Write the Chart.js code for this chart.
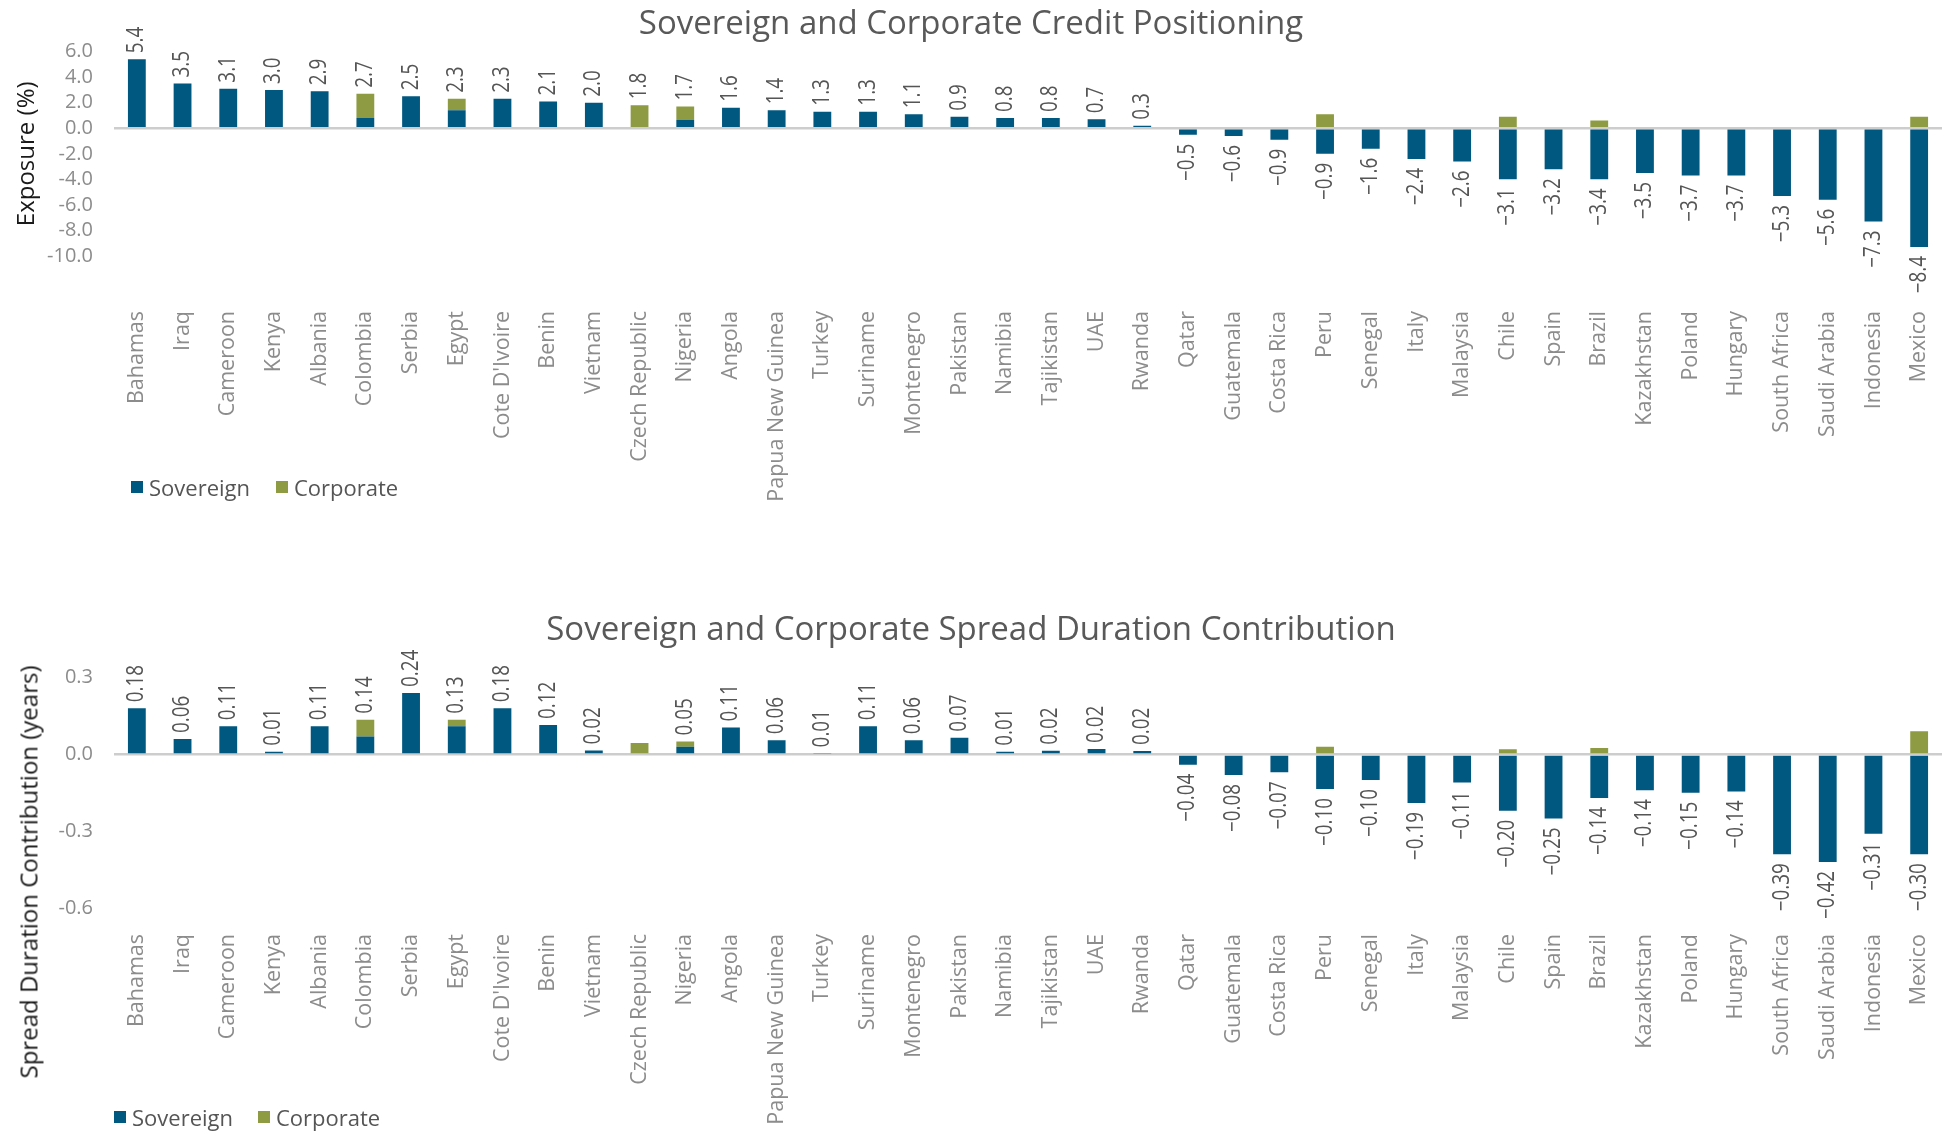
<!DOCTYPE html>
<html>
<head>
<meta charset="utf-8">
<script src="https://cdn.jsdelivr.net/npm/chart.js@4.4.1/dist/chart.umd.min.js"></script>
<style>
  body { margin: 0; width: 1942px; height: 1131px; background: #fff; position: relative; overflow: hidden; font-family: "Open Sans", sans-serif; }
  .box { position: absolute; left: 0; width: 1942px; }
  .legend-item { position: absolute; display: flex; align-items: center; font-size: 22px; line-height: 22px; color: #555; white-space: nowrap; }
  .legend-item i { display: inline-block; width: 12px; height: 12px; margin-right: 6px; }
  .ytitle { position: absolute; font-size: 24px; color: #1a1a1a; white-space: nowrap; transform: translate(-50%, -50%) rotate(-90deg); }
</style>
</head>
<body>
<div class="box" style="top:0;height:560px"><canvas id="positioning"></canvas></div>
<div class="box" style="top:560px;height:571px"><canvas id="duration"></canvas></div>

<div class="legend-item" style="left:131px;top:476px"><i style="background:#00577f"></i>Sovereign</div>
<div class="legend-item" style="left:276px;top:476px"><i style="background:#8e9b42"></i>Corporate</div>
<div class="legend-item" style="left:114px;top:1106px"><i style="background:#00577f"></i>Sovereign</div>
<div class="legend-item" style="left:258px;top:1106px"><i style="background:#8e9b42"></i>Corporate</div>
<div class="ytitle" style="left:28px;top:872px">Spread Duration Contribution (years)</div>

<script>
const countries = [
  "Bahamas", "Iraq", "Cameroon", "Kenya", "Albania", "Colombia", "Serbia", "Egypt",
  "Cote D'Ivoire", "Benin", "Vietnam", "Czech Republic", "Nigeria", "Angola",
  "Papua New Guinea", "Turkey", "Suriname", "Montenegro", "Pakistan", "Namibia",
  "Tajikistan", "UAE", "Rwanda", "Qatar", "Guatemala", "Costa Rica", "Peru", "Senegal",
  "Italy", "Malaysia", "Chile", "Spain", "Brazil", "Kazakhstan", "Poland", "Hungary",
  "South Africa", "Saudi Arabia", "Indonesia", "Mexico",
];

// Exposure (%)
const exposureSovereign = [
  5.4, 3.5, 3.1, 3.0, 2.9, 0.8, 2.5, 1.4, 2.3, 2.1, 2.0, 0, 0.65, 1.6, 1.4, 1.3, 1.3, 1.1,
  0.9, 0.8, 0.8, 0.7, 0.2, -0.5, -0.6, -0.9, -2.0, -1.6, -2.4, -2.6, -4.0, -3.2, -4.0,
  -3.5, -3.7, -3.7, -5.3, -5.6, -7.3, -9.3,
];
const exposureCorporate = [
  0, 0, 0, 0, 0, 1.9, 0, 0.9, 0, 0, 0, 1.8, 1.05, 0, 0, 0, 0, 0, 0, 0, 0, 0, 0, 0, 0, 0,
  1.1, 0, 0, 0, 0.9, 0, 0.6, 0, 0, 0, 0, 0, 0, 0.9,
];
const exposureNet = [
  5.4, 3.5, 3.1, 3.0, 2.9, 2.7, 2.5, 2.3, 2.3, 2.1, 2.0, 1.8, 1.7, 1.6, 1.4, 1.3, 1.3, 1.1,
  0.9, 0.8, 0.8, 0.7, 0.3, -0.5, -0.6, -0.9, -0.9, -1.6, -2.4, -2.6, -3.1, -3.2, -3.4,
  -3.5, -3.7, -3.7, -5.3, -5.6, -7.3, -8.4,
];
const exposureTicks = [6, 4, 2, 0, -2, -4, -6, -8, -10];

// Spread duration contribution (years)
const durationSovereign = [
  0.18, 0.06, 0.11, 0.01, 0.11, 0.07, 0.24, 0.11, 0.18, 0.115, 0.015, 0, 0.03, 0.105,
  0.055, 0.004, 0.11, 0.055, 0.065, 0.01, 0.014, 0.021, 0.013, -0.04, -0.08, -0.07,
  -0.135, -0.10, -0.19, -0.11, -0.22, -0.25, -0.17, -0.14, -0.15, -0.145, -0.39, -0.42,
  -0.31, -0.39,
];
const durationCorporate = [
  0, 0, 0, 0, 0, 0.065, 0, 0.025, 0, 0, 0, 0.045, 0.02, 0, 0, 0, 0, 0, 0, 0, 0, 0, 0, 0,
  0, 0, 0.03, 0, 0, 0, 0.02, 0, 0.025, 0, 0, 0, 0, 0, 0, 0.09,
];
const durationNet = [
  0.18, 0.06, 0.11, 0.01, 0.11, 0.14, 0.24, 0.13, 0.18, 0.12, 0.02, null, 0.05, 0.11,
  0.06, 0.01, 0.11, 0.06, 0.07, 0.01, 0.02, 0.02, 0.02, -0.04, -0.08, -0.07, -0.10,
  -0.10, -0.19, -0.11, -0.20, -0.25, -0.14, -0.14, -0.15, -0.14, -0.39, -0.42, -0.31,
  -0.30,
];
const durationTicks = [0.3, 0, -0.3, -0.6];

const COLORS = {
  sovereign: "#00577f",
  corporate: "#8e9b42",
  title: "#595959",
  tick: "#8c8c8c",
  value: "#555555",
  zero: "#cdcdcd",
};
const FONT = "'Open Sans', sans-serif";

// rotated net labels above / below each stack (narrowed to look condensed)
const valueLabels = {
  id: "valueLabels",
  afterDatasetsDraw(chart, args, opts) {
    const { ctx, scales } = chart;
    const sov = chart.data.datasets[0].data;
    const corp = chart.data.datasets[1].data;
    ctx.save();
    ctx.font = `23px ${FONT}`;
    ctx.fillStyle = COLORS.value;
    ctx.textBaseline = "middle";
    opts.values.forEach((v, i) => {
      if (v === null) return;
      const x = scales.x.getPixelForValue(i);
      let y;
      ctx.save();
      if (v >= 0) {
        const top = Math.max(sov[i], 0) + Math.max(corp[i], 0);
        y = scales.y.getPixelForValue(top) - 6;
        ctx.textAlign = "left";
      } else {
        const bottom = Math.min(sov[i], 0) + Math.min(corp[i], 0);
        y = scales.y.getPixelForValue(bottom) + 9;
        ctx.textAlign = "right";
      }
      ctx.translate(x, y);
      ctx.rotate(-Math.PI / 2);
      ctx.scale(0.82, 1);
      const txt = Math.abs(v).toFixed(opts.digits);
      ctx.fillText((v < 0 ? "\u2212" : "") + txt, 0, 0);
      ctx.restore();
    });
    ctx.restore();
  },
};

function fmtTick(v, digits) {
  return Math.abs(v) < 1e-9 ? (0).toFixed(digits) : v.toFixed(digits);
}

function createStackedChart(canvas, cfg) {
  return new Chart(canvas.getContext("2d"), {
    type: "bar",
    data: {
      labels: countries,
      datasets: [
        { label: "Sovereign", data: cfg.sovereign, backgroundColor: COLORS.sovereign },
        { label: "Corporate", data: cfg.corporate, backgroundColor: COLORS.corporate },
      ],
    },
    plugins: [valueLabels],
    options: {
      responsive: true,
      maintainAspectRatio: false,
      animation: false,
      categoryPercentage: 1,
      barPercentage: 0.39,
      layout: { padding: 0 },
      plugins: {
        legend: { display: false },
        tooltip: { enabled: false },
        title: {
          display: true,
          text: cfg.title,
          color: COLORS.title,
          font: { family: FONT, size: 33, weight: "normal" },
          padding: cfg.titlePad,
        },
        valueLabels: { values: cfg.net, digits: cfg.digits },
      },
      scales: {
        x: {
          stacked: true,
          grid: { display: false, drawTicks: false },
          border: { display: false },
          ticks: {
            autoSkip: false,
            minRotation: 90,
            maxRotation: 90,
            padding: cfg.labelPad,
            color: COLORS.tick,
            font: { family: FONT, size: 21.5 },
          },
          afterFit: (s) => {
            s.height = cfg.xHeight;
            // keep the plot running to the right edge
            s.paddingLeft = 0;
            s.paddingRight = 0;
          },
        },
        y: {
          stacked: true,
          min: cfg.ticks[cfg.ticks.length - 1],
          max: cfg.ticks[0],
          afterBuildTicks: (s) => { s.ticks = cfg.ticks.map((value) => ({ value })); },
          grid: {
            drawTicks: false,
            color: (c) => (Math.abs(c.tick.value) < 1e-9 ? COLORS.zero : "transparent"),
            lineWidth: 2.5,
          },
          border: { display: false },
          ticks: {
            autoSkip: false,
            padding: 21,
            color: COLORS.tick,
            font: { family: FONT, size: 20 },
            callback: (v) => fmtTick(v, 1),
          },
          title: {
            display: !!cfg.yTitle,
            text: cfg.yTitle,
            color: "#1a1a1a",
            font: { family: FONT, size: 24 },
            padding: { top: 13, bottom: 0 },
          },
          afterFit: (s) => { s.width = 114; },
        },
      },
    },
  });
}

createStackedChart(document.getElementById("positioning"), {
  title: "Sovereign and Corporate Credit Positioning",
  titlePad: { top: 5, bottom: 7 },
  sovereign: exposureSovereign,
  corporate: exposureCorporate,
  net: exposureNet,
  digits: 1,
  ticks: exposureTicks,
  yTitle: "Exposure (%)",
  xHeight: 304,
  labelPad: 55,
});

createStackedChart(document.getElementById("duration"), {
  title: "Sovereign and Corporate Spread Duration Contribution",
  titlePad: { top: 51, bottom: 27 },
  sovereign: durationSovereign,
  corporate: durationCorporate,
  net: durationNet,
  digits: 2,
  ticks: durationTicks,
  yTitle: "",
  xHeight: 223,
  labelPad: 26,
});
</script>
</body>
</html>
